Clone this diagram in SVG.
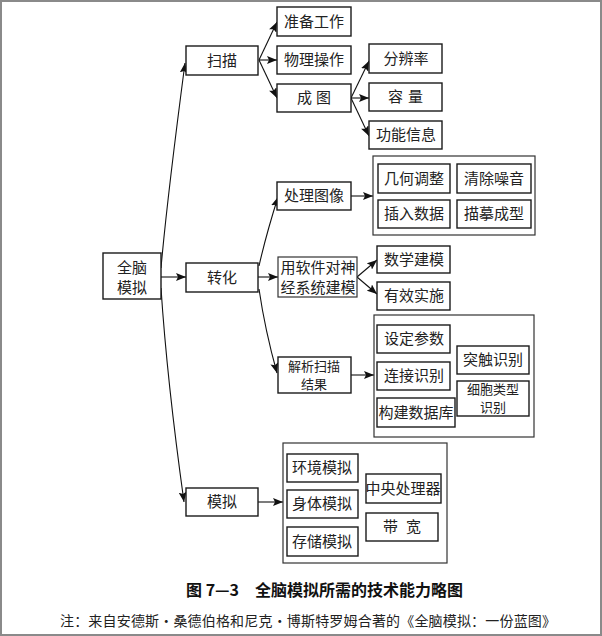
<svg xmlns="http://www.w3.org/2000/svg" width="602" height="636" viewBox="0 0 602 636">
<defs>
<marker id="ah" markerUnits="userSpaceOnUse" markerWidth="10" markerHeight="8" refX="10" refY="4" orient="auto">
<path d="M0,0 L10,4 L0,8 L2,4 z" fill="#111"/>
</marker>
<style>
.b{fill:#fff;stroke:#1a1a1a;stroke-width:1.4}
.g{fill:#fff;stroke:#333;stroke-width:1.2}
.t{font-family:"Noto Sans CJK SC","Noto Sans",sans-serif;font-size:15px;fill:#222;text-anchor:middle}
.s{font-size:13px}
.c{fill:none;stroke:#111;stroke-width:1.1;marker-end:url(#ah)}
.cap{font-family:"Noto Sans CJK SC","Liberation Sans",sans-serif;font-size:16px;font-weight:bold;fill:#111}
.note{font-family:"Noto Sans CJK SC","Liberation Serif",serif;font-size:14px;fill:#222}
</style>
</defs>
<rect x="0" y="0" width="602" height="636" fill="#fff"/>
<rect x="1" y="1" width="600" height="634" fill="none" stroke="#8a8a8a" stroke-width="2"/>

<g id="connectors">
<path class="c" d="M161,268 Q167,200 185,63"/>
<path class="c" d="M161,277 H186"/>
<path class="c" d="M161,288 Q167,380 184,502"/>
<path class="c" d="M259,60 L277,22"/>
<path class="c" d="M259,60 H277"/>
<path class="c" d="M259,60 L277,98"/>
<path class="c" d="M351,98 L369,61"/>
<path class="c" d="M351,98 H369"/>
<path class="c" d="M351,98 L369,136"/>
<path class="c" d="M259,266 Q266,235 278,197"/>
<path class="c" d="M258,277 H278"/>
<path class="c" d="M259,289 Q265,330 277,373"/>
<path class="c" d="M351,196 H373"/>
<path class="c" d="M357,277 L377,260"/>
<path class="c" d="M357,277 L377,294"/>
<path class="c" d="M351,375 H374"/>
<path class="c" d="M258,502 H283"/>
</g>

<g id="n-root"><rect class="b" x="103" y="253" width="58" height="46"/><text class="t" x="132" y="273">全脑</text><text class="t" x="132" y="293">模拟</text></g>
<g id="n-scan"><rect class="b" x="186" y="46" width="72" height="29"/><text class="t" x="222" y="66">扫描</text></g>
<g id="n-convert"><rect class="b" x="186" y="263" width="72" height="29"/><text class="t" x="222" y="283">转化</text></g>
<g id="n-sim"><rect class="b" x="186" y="488" width="72" height="28"/><text class="t" x="222" y="507">模拟</text></g>

<g id="n-prep"><rect class="b" x="277" y="7" width="74" height="29"/><text class="t" x="314" y="27">准备工作</text></g>
<g id="n-phys"><rect class="b" x="277" y="46" width="74" height="28"/><text class="t" x="314" y="65">物理操作</text></g>
<g id="n-image"><rect class="b" x="277" y="84" width="74" height="28"/><text class="t" x="316" y="103" style="letter-spacing:4px">成图</text></g>

<g id="n-res"><rect class="b" x="369" y="44" width="73" height="29"/><text class="t" x="406" y="64">分辨率</text></g>
<g id="n-cap"><rect class="b" x="369" y="83" width="73" height="28"/><text class="t" x="408" y="102" style="letter-spacing:5px">容量</text></g>
<g id="n-func"><rect class="b" x="369" y="121" width="73" height="28"/><text class="t" x="406" y="140">功能信息</text></g>

<g id="n-proc"><rect class="b" x="277" y="182" width="74" height="28"/><text class="t" x="314" y="201">处理图像</text></g>
<g id="n-procgroup">
<rect class="g" x="373" y="156" width="162" height="79"/>
<rect class="b" x="378" y="164" width="72" height="29"/><text class="t" x="414" y="184">几何调整</text>
<rect class="b" x="457" y="164" width="74" height="29"/><text class="t" x="494" y="184">清除噪音</text>
<rect class="b" x="378" y="200" width="72" height="28"/><text class="t" x="414" y="219">插入数据</text>
<rect class="b" x="457" y="200" width="74" height="28"/><text class="t" x="494" y="219">描摹成型</text>
</g>

<g id="n-model"><rect class="g" x="278" y="257" width="79" height="40"/><text class="t" x="318" y="273">用软件对神</text><text class="t" x="318" y="293">经系统建模</text></g>
<g id="n-math"><rect class="b" x="377" y="246" width="73" height="27"/><text class="t" x="414" y="265">数学建模</text></g>
<g id="n-impl"><rect class="b" x="377" y="282" width="73" height="28"/><text class="t" x="414" y="301">有效实施</text></g>

<g id="n-parse"><rect class="b" x="278" y="357" width="73" height="36"/><text class="t s" x="314" y="371">解析扫描</text><text class="t s" x="314" y="389">结果</text></g>
<g id="n-parsegroup">
<rect class="g" x="374" y="315" width="160" height="122"/>
<rect class="b" x="377" y="325" width="73" height="28"/><text class="t" x="414" y="344">设定参数</text>
<rect class="b" x="377" y="362" width="73" height="28"/><text class="t" x="414" y="381">连接识别</text>
<rect class="b" x="377" y="398" width="78" height="29"/><text class="t" x="416" y="418">构建数据库</text>
<rect class="b" x="457" y="346" width="72" height="28"/><text class="t" x="493" y="365">突触识别</text>
<rect class="b" x="457" y="381" width="72" height="35"/><text class="t s" x="493" y="394">细胞类型</text><text class="t s" x="493" y="412">识别</text>
</g>

<g id="n-simgroup">
<rect class="g" x="283" y="443" width="164" height="120"/>
<rect class="b" x="287" y="454" width="71" height="28"/><text class="t" x="322" y="473">环境模拟</text>
<rect class="b" x="287" y="490" width="71" height="28"/><text class="t" x="322" y="509">身体模拟</text>
<rect class="b" x="287" y="527" width="71" height="29"/><text class="t" x="322" y="547">存储模拟</text>
<rect class="b" x="366" y="474" width="75" height="29"/><text class="t" x="403" y="494">中央处理器</text>
<rect class="b" x="366" y="513" width="72" height="28"/><text class="t" x="406" y="532" style="letter-spacing:8px">带宽</text>
</g>

<g id="caption">
<text class="cap" x="186" y="596">图 7—3</text>
<text class="cap" x="255" y="596">全脑模拟所需的技术能力略图</text>
<text class="note" x="60" y="626" textLength="496" lengthAdjust="spacing">注：来自安德斯·桑德伯格和尼克·博斯特罗姆合著的《全脑模拟：一份蓝图》</text>
</g>
</svg>
